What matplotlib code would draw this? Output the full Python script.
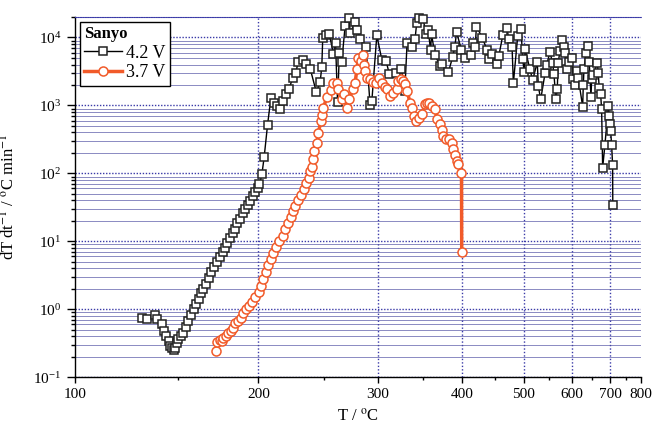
import numpy as np
import matplotlib
matplotlib.use('Agg')
import matplotlib.pyplot as plt
from matplotlib.ticker import FixedLocator, LogLocator, LogFormatterMathtext, NullFormatter

# Sanyo cells, self-heating rate vs temperature
t42 = [131.4, 134.0, 137.8, 139.0, 141.5, 142.4, 143.8, 145.1, 146.0, 146.9,
       147.8, 148.7, 149.6, 150.5, 151.8, 153.2, 154.7, 156.0, 157.6, 159.1,
       160.6, 162.1, 163.5, 164.8, 166.4, 167.9, 169.5, 171.4, 172.8, 175.0,
       176.6, 178.0, 179.5, 181.2, 182.9, 184.4, 185.9, 187.7, 189.5, 191.0,
       192.6, 194.4, 196.2, 197.8, 199.4, 200.7, 202.4, 204.0, 206.4, 208.8,
       210.7, 213.1, 215.5, 217.9, 219.8, 222.3, 224.9, 227.4, 229.1, 233.0,
       235.6, 238.8, 243.8, 246.9, 248.3, 249.1, 251.9, 254.8, 258.3, 260.1,
       261.9, 263.5, 265.6, 268.7, 272.5, 273.2, 277.9, 280.1, 282.6, 288.3,
       292.3, 294.0, 299.0, 304.1, 308.6, 312.0, 319.0, 325.0, 328.8, 331.3,
       336.7, 340.5, 342.4, 345.4, 350.2, 353.4, 356.1, 359.0, 360.3, 364.6,
       371.0, 373.2, 381.8, 387.5, 390.5, 392.9, 399.7, 404.3, 413.9, 416.3,
       419.5, 421.2, 430.4, 437.3, 440.4, 445.8, 453.0, 456.1, 462.8, 470.1,
       472.8, 478.7, 481.0, 488.7, 494.7, 497.7, 500.6, 502.4, 511.3, 516.5,
       525.5, 527.5, 532.3, 541.0, 544.5, 551.3, 556.9, 559.7, 564.0, 566.8,
       569.0, 572.7, 576.5, 581.8, 584.1, 589.3, 593.8, 599.4, 603.3, 607.3,
       612.8, 615.2, 626.2, 627.7, 629.5, 634.5, 640.4, 642.9, 647.4, 649.2,
       653.4, 664.1, 666.8, 669.5, 673.4, 676.2, 679.0, 685.5, 695.1, 698.0,
       699.8, 701.9, 704.8, 707.8, 708.3]
v42 = [0.755, 0.73, 0.816, 0.73, 0.616, 0.48, 0.405, 0.342, 0.288, 0.273,
       0.249, 0.273, 0.324, 0.362, 0.405, 0.454, 0.549, 0.673, 0.83, 1.02,
       1.21, 1.44, 1.76, 1.97, 2.33, 2.93, 3.54, 4.25, 4.96, 5.95,
       6.97, 8.09, 9.35, 11.1, 13.1, 15.3, 18.4, 21.6, 25.8, 29.6,
       33.8, 39.2, 46.4, 53.2, 61.7, 68.8, 96.4, 173, 516, 1300,
       1100, 980, 873, 1150, 1450, 1760, 2550, 3020, 4330, 4640,
       4140, 3450, 1560, 2200, 3690, 9840, 10700, 11080, 5640, 8280,
       1120, 5960, 4330, 15000, 19500, 11700, 16700, 13100, 9340, 7340,
       1000, 1150, 10700, 4740, 4480, 2870, 3020, 3450, 1620, 8170,
       7250, 9520, 16500, 19400, 18400, 11200, 13100, 6550, 11100, 5480,
       3850, 4020, 3070, 5150, 7340, 11900, 6550, 5000, 5440, 8280,
       7250, 14500, 9840, 6550, 4800, 5640, 4140, 5250, 10700, 13700,
       9520, 7250, 2120, 10500, 13300, 4800, 3090, 6660, 3380, 2360,
       4330, 1920, 1225, 2960, 4000, 6100, 4160, 2870, 1225, 1720,
       4240, 6300, 9100, 7340, 5960, 3450, 4420, 5000, 2410, 1970,
       3200, 2560, 960, 1970, 3450, 5960, 7600, 4330, 1340, 2410,
       2760, 4240, 3020, 1820, 1450, 873, 121, 265, 970, 710,
       526, 418, 265, 131, 33.8]

t37 = [172.6, 173.0, 174.6, 176.0, 177.0, 178.7, 180.1, 181.7, 183.3, 184.5,
       186.6, 188.2, 189.9, 191.7, 193.3, 195.5, 197.8, 200.1, 201.9, 203.4,
       205.1, 206.9, 208.6, 210.4, 212.6, 215.0, 217.5, 219.2, 221.7, 223.4,
       225.1, 226.9, 229.4, 231.3, 233.4, 235.5, 237.4, 238.7, 240.1, 240.9,
       242.0, 244.2, 245.5, 247.5, 248.3, 249.7, 252.6, 256.0, 258.3, 261.2,
       262.6, 265.6, 267.6, 270.6, 272.4, 275.7, 277.9, 279.5, 281.0, 283.1,
       285.2, 286.0, 287.4, 289.6, 292.3, 295.6, 298.3, 301.6, 304.1, 307.6,
       310.0, 312.7, 315.6, 319.9, 321.7, 324.3, 327.2, 329.1, 331.7, 334.7,
       336.7, 339.3, 341.7, 344.6, 348.3, 352.3, 355.1, 357.6, 360.5, 364.6,
       367.5, 371.0, 373.2, 375.3, 378.8, 383.1, 386.3, 388.5, 390.8, 393.1,
       395.3, 399.7, 400.0]
v37 = [0.24, 0.33, 0.36, 0.34, 0.38, 0.40, 0.45, 0.48, 0.54, 0.62,
       0.67, 0.75, 0.87, 1.0, 1.12, 1.28, 1.54, 1.80, 2.18, 2.76,
       3.50, 4.44, 5.44, 6.66, 8.16, 10.0, 12.2, 15.0, 18.4, 22.5,
       27.6, 33.0, 40.5, 47.5, 58.2, 71.3, 86.4, 107, 126, 165,
       213, 276, 397, 588, 713, 925, 1340, 1680, 2110, 2110,
       1720, 1225, 1450, 925, 1255, 1720, 2160, 3380, 5030, 4440,
       5440, 3870, 3160, 2550, 2410, 2200, 2110, 2550, 2160, 1880,
       1760, 1400, 1540, 1760, 2280, 2410, 2280, 2040, 1620, 1070,
       925, 697, 588, 644, 738, 1035, 1095, 1070, 977, 894,
       622, 526, 433, 354, 324, 316, 283, 225, 184, 152,
       136, 102, 7.06]

xticks = [100, 200, 300, 400, 500, 600, 700, 800]
xminor = [150, 250, 350, 450, 550, 650, 750]
xgrid = [200, 300, 400, 500, 600, 700]

orange = '#f15a29'
gridblue = '#3a3aa8'

plt.rcParams['font.family'] = ['Liberation Serif', 'DejaVu Serif']
plt.rcParams['mathtext.fontset'] = 'stix'


# x axis is reciprocal kelvin (Arrhenius style)
def fwd(t):
    with np.errstate(divide='ignore', invalid='ignore'):
        return -1000.0 / (np.asarray(t, dtype=float) + 273.15)


def inv(u):
    with np.errstate(divide='ignore', invalid='ignore'):
        return -1000.0 / np.asarray(u, dtype=float) - 273.15


fig = plt.figure(figsize=(6.53, 4.33), dpi=100)
ax = fig.add_axes([0.1149, 0.1286, 0.8667, 0.8321])
ax.set_xscale('function', functions=(fwd, inv))
ax.set_yscale('log')
ax.set_xlim(100, 800)
ax.set_ylim(0.1, 2e4)

ax.set_axisbelow(True)
ax.grid(axis='y', which='major', color=gridblue, ls=(0, (1, 1.2)), lw=1.0)
ax.grid(axis='y', which='minor', color='#4a4aa0', ls='-', lw=0.6, alpha=0.75)
for t in xgrid:
    ax.axvline(t, color=gridblue, ls=(0, (1, 1.5)), lw=1.0, zorder=0.5)

ax.plot(t42, v42, color='k', lw=1.0, marker='s', ms=5.8, mfc='white',
        mec='#222222', mew=1.1, label='4.2 V', clip_on=False, zorder=3)
ax.plot(t37, v37, color=orange, lw=2.5, marker='o', ms=6.5, mfc='white',
        mec=orange, mew=1.1, label='3.7 V', zorder=4)

ax.xaxis.set_major_locator(FixedLocator(xticks))
ax.xaxis.set_minor_locator(FixedLocator(xminor))
ax.xaxis.set_major_formatter(matplotlib.ticker.FixedFormatter([str(t) for t in xticks]))
ax.xaxis.set_minor_formatter(NullFormatter())
ax.yaxis.set_major_locator(LogLocator(base=10))
ax.yaxis.set_minor_locator(LogLocator(base=10, subs=np.arange(2, 10)))
ax.yaxis.set_major_formatter(LogFormatterMathtext())
ax.yaxis.set_minor_formatter(NullFormatter())

ax.tick_params(axis='x', which='major', direction='out', length=4, width=1, labelsize=11, pad=4)
ax.tick_params(axis='x', which='minor', direction='out', length=2.5, width=1)
ax.tick_params(axis='y', which='major', direction='out', length=6, width=1, labelsize=11, pad=4)
ax.tick_params(axis='y', which='minor', direction='out', length=3, width=1)

ax.spines['right'].set_visible(False)
ax.spines['top'].set_color(gridblue)
ax.spines['top'].set_linestyle((0, (1, 1.2)))
ax.spines['left'].set_linewidth(1)
ax.spines['bottom'].set_linewidth(1)

ax.set_xlabel('T / $^{\\rm o}$C', fontsize=12)
ax.set_ylabel('dT dt$^{-1}$ / $^{\\rm o}$C min$^{-1}$', fontsize=12)
ax.xaxis.set_label_coords(0.5, -0.085)
ax.yaxis.set_label_coords(-0.1, 0.5)

leg = ax.legend(title='Sanyo', loc='upper left', fontsize=13,
                title_fontproperties={'weight': 'bold', 'size': 12},
                alignment='left', frameon=True, fancybox=False,
                edgecolor='k', framealpha=1, handlelength=2.1,
                handletextpad=0.2, labelspacing=0.15, borderpad=0.25,
                borderaxespad=0.25)
leg.get_frame().set_linewidth(1)

fig.savefig('out.png', dpi=100)
